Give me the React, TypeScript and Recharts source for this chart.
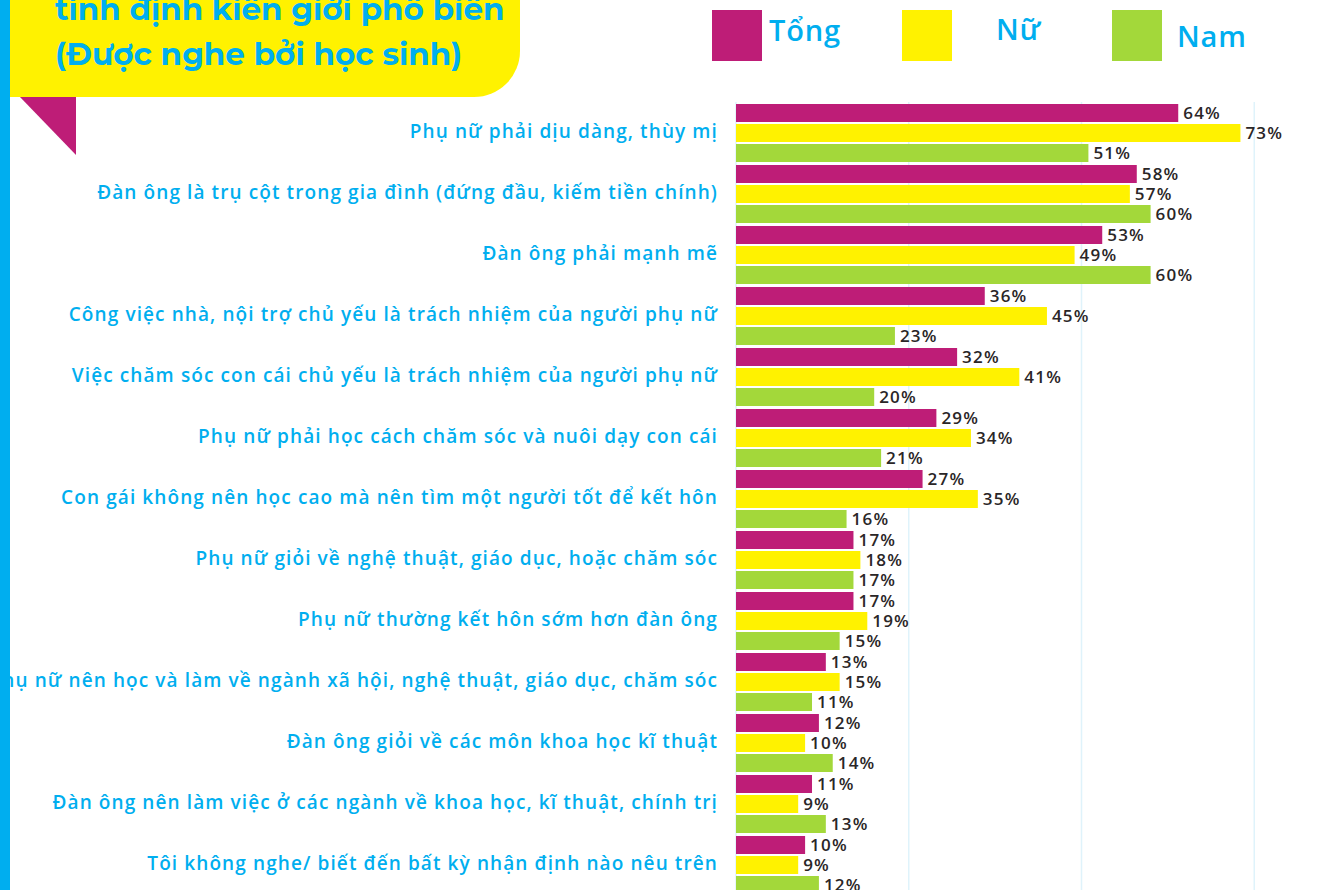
import { Bar, BarChart, CartesianGrid, LabelList, Legend, XAxis, YAxis } from "recharts";

const categories = [
  "Phụ nữ phải dịu dàng, thùy mị",
  "Đàn ông là trụ cột trong gia đình (đứng đầu, kiếm tiền chính)",
  "Đàn ông phải mạnh mẽ",
  "Công việc nhà, nội trợ chủ yếu là trách nhiệm của người phụ nữ",
  "Việc chăm sóc con cái chủ yếu là trách nhiệm của người phụ nữ",
  "Phụ nữ phải học cách chăm sóc và nuôi dạy con cái",
  "Con gái không nên học cao mà nên tìm một người tốt để kết hôn",
  "Phụ nữ giỏi về nghệ thuật, giáo dục, hoặc chăm sóc",
  "Phụ nữ thường kết hôn sớm hơn đàn ông",
  "Phụ nữ nên học và làm về ngành xã hội, nghệ thuật, giáo dục, chăm sóc",
  "Đàn ông giỏi về các môn khoa học kĩ thuật",
  "Đàn ông nên làm việc ở các ngành về khoa học, kĩ thuật, chính trị",
  "Tôi không nghe/ biết đến bất kỳ nhận định nào nêu trên",
];

const tong = [64, 58, 53, 36, 32, 29, 27, 17, 17, 13, 12, 11, 10];
const nu = [73, 57, 49, 45, 41, 34, 35, 18, 19, 15, 10, 9, 9];
const nam = [51, 60, 60, 23, 20, 21, 16, 17, 15, 11, 14, 13, 12];

const xTicks = [0, 25, 50, 75, 100];

const data = categories.map((label, i) => ({
  label,
  tong: tong[i],
  nu: nu[i],
  nam: nam[i],
}));

const BLUE = "#00aeef";
const FONT = "'Open Sans', 'Noto Sans', sans-serif";

// legend item placement (square left, text left, text centre y)
const legendPos: Record<string, { sq: number; tx: number; ty: number }> = {
  "Tổng": { sq: 712, tx: 769, ty: 30 },
  "Nữ": { sq: 902, tx: 996, ty: 29 },
  Nam: { sq: 1112, tx: 1177, ty: 36 },
};

function LegendContent({ payload }: any) {
  return (
    <div style={{ position: "relative", width: 1318, height: 90 }}>
      {(payload || []).map((p: any) => {
        const pos = legendPos[p.value];
        if (!pos) return null;
        return (
          <div key={p.value}>
            <div
              style={{
                position: "absolute",
                left: pos.sq,
                top: 10,
                width: 50,
                height: 51,
                background: p.color,
              }}
            />
            <div
              style={{
                position: "absolute",
                left: pos.tx,
                top: pos.ty - 20,
                lineHeight: "40px",
                fontSize: 29,
                fontWeight: 600,
                letterSpacing: 0.8,
                color: BLUE,
                fontFamily: FONT,
                whiteSpace: "nowrap",
              }}
            >
              {p.value}
            </div>
          </div>
        );
      })}
    </div>
  );
}

function CategoryTick({ y, payload }: any) {
  return (
    <text
      x={718}
      y={y - 1}
      dy="0.35em"
      textAnchor="end"
      fill={BLUE}
      fontSize={19}
      fontWeight={600}
      fontFamily={FONT}
      letterSpacing={1.1}
    >
      {payload.value}
    </text>
  );
}

const pct = (v: any) => `${v}%`;
const valueLabelStyle = {
  fill: "#2a2627",
  fontSize: 17,
  fontWeight: 600,
  fontFamily: FONT,
  letterSpacing: 1.2,
};

export default function App() {
  return (
    <div
      style={{
        position: "fixed",
        left: 0,
        top: 0,
        width: 1318,
        height: 890,
        overflow: "hidden",
        background: "#fff",
      }}
    >
      <div style={{ position: "absolute", left: 0, top: 0, width: 10, height: 890, background: BLUE }} />
      <div
        style={{
          position: "absolute",
          left: 10,
          top: -60,
          width: 510,
          height: 157,
          background: "#fff200",
          borderBottomRightRadius: 46,
          fontFamily: "Montserrat, 'Open Sans', sans-serif",
          fontWeight: 700,
          fontSize: 31,
          color: BLUE,
        }}
      >
        <div style={{ position: "absolute", left: 45, top: 47, lineHeight: "44px", whiteSpace: "nowrap" }}>
          tính định kiến giới phổ biến
        </div>
        <div style={{ position: "absolute", left: 45, top: 92, lineHeight: "44px", whiteSpace: "nowrap" }}>
          (Được nghe bởi học sinh)
        </div>
      </div>
      <svg style={{ position: "absolute", left: 0, top: 0 }} width={100} height={170}>
        <polygon points="20,97 76,97 76,155" fill="#be1d77" />
      </svg>
      <div style={{ position: "absolute", left: 0, top: 0 }}>
        <BarChart
          width={1440}
          height={900}
          data={data}
          layout="vertical"
          margin={{ top: 102, right: 13, bottom: 5, left: 0 }}
          barSize={18}
          barGap={2}
        >
          <CartesianGrid horizontal={false} stroke="#dff3fb" strokeWidth={1.5} />
          <XAxis type="number" domain={[0, 100]} ticks={xTicks} hide />
          <YAxis
            type="category"
            dataKey="label"
            width={736}
            axisLine={false}
            tickLine={false}
            tick={<CategoryTick />}
            interval={0}
          />
          <Legend
            layout="vertical"
            align="center"
            verticalAlign="middle"
            wrapperStyle={{ top: 0, left: 0, width: 1318, height: 90 }}
            content={<LegendContent />}
          />
          <Bar dataKey="tong" name="Tổng" fill="#be1d77" isAnimationActive={false}>
            <LabelList dataKey="tong" position="right" offset={5} formatter={pct} style={valueLabelStyle} />
          </Bar>
          <Bar dataKey="nu" name="Nữ" fill="#fff200" isAnimationActive={false}>
            <LabelList dataKey="nu" position="right" offset={5} formatter={pct} style={valueLabelStyle} />
          </Bar>
          <Bar dataKey="nam" name="Nam" fill="#a3d83a" isAnimationActive={false}>
            <LabelList dataKey="nam" position="right" offset={5} formatter={pct} style={valueLabelStyle} />
          </Bar>
        </BarChart>
      </div>
    </div>
  );
}
